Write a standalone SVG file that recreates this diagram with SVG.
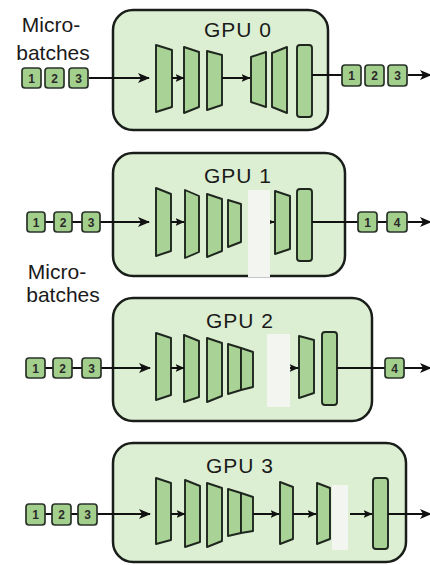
<svg xmlns="http://www.w3.org/2000/svg" width="430" height="565" viewBox="0 0 430 565">
  <style>
    .box { fill: #dcefd2; stroke: #1a1e1a; stroke-width: 2.5; }
    .layer { fill: #a9d396; stroke: #1e261e; stroke-width: 1.9; stroke-linejoin: round; }
    .sq { fill: #a3cf8c; stroke: #2a332a; stroke-width: 1.7; }
    .num { font-family: "Liberation Sans", Arial, sans-serif; font-size: 12px; font-weight: bold; fill: #2a2a2a; text-anchor: middle; }
    .title { font-family: "Liberation Sans", Arial, sans-serif; font-size: 21px; letter-spacing: 1px; fill: #1a1a1a; text-anchor: middle; }
    .lbl { font-family: "Liberation Sans", Arial, sans-serif; font-size: 21px; fill: #1a1a1a; text-anchor: middle; }
    .ln { stroke: #111; stroke-width: 2; fill: none; }
    .big { marker-end: url(#ah); }
    .small { marker-end: url(#ahs); }
    .band { fill: #f3f5f1; }
  </style>
  <defs>
    <marker id="ah" viewBox="0 0 12 10" refX="11" refY="5" markerWidth="12" markerHeight="10" markerUnits="userSpaceOnUse" orient="auto">
      <path d="M0,0 L12,5 L0,10 L3,5 Z" fill="#111"/>
    </marker>
    <marker id="ahs" viewBox="0 0 9 8" refX="8.5" refY="4" markerWidth="9" markerHeight="8" markerUnits="userSpaceOnUse" orient="auto">
      <path d="M0,0 L9,4 L0,8 L2,4 Z" fill="#111"/>
    </marker>
  </defs>

  <!-- labels -->
  <g id="label-microbatches-0">
    <text class="lbl" x="51" y="32">Micro-</text>
    <text class="lbl" x="53" y="60">batches</text>
  </g>
  <g id="label-microbatches-2">
    <text class="lbl" x="57" y="279">Micro-</text>
    <text class="lbl" x="63" y="302">batches</text>
  </g>

  <!-- GPU boxes -->
  <g id="gpu0">
    <rect class="box" x="113" y="10" width="215" height="120" rx="20"/>
    <text class="title" x="238" y="37">GPU 0</text>
    <polygon class="layer" points="156,45 172,50 172,107 156,112"/>
    <polygon class="layer" points="184,47 199,52 199,107 184,113"/>
    <polygon class="layer" points="207,51 222,55 222,105 207,110"/>
    <polygon class="layer" points="251,57 266,52 266,107 251,102"/>
    <polygon class="layer" points="272,53 287,47 287,113 272,107"/>
    <rect class="layer" x="297" y="45" width="15" height="72" rx="3"/>
  </g>
  <g id="gpu1">
    <rect class="box" x="113" y="153" width="232" height="123" rx="20"/>
    <text class="title" x="238" y="183">GPU 1</text>
    <polygon class="layer" points="156,188 171,194 171,251 156,256"/>
    <polygon class="layer" points="185,190 199,196 199,252 185,258"/>
    <polygon class="layer" points="207,194 222,199 222,251 207,257"/>
    <polygon class="layer" points="228,200 241,204 241,242 228,247"/>
    <polygon class="layer" points="275,191 290,196 290,249 275,254"/>
    <rect class="layer" x="297" y="189" width="15" height="72" rx="3"/>
  </g>
  <g id="gpu2">
    <rect class="box" x="113" y="298" width="259" height="123" rx="20"/>
    <text class="title" x="240" y="328">GPU 2</text>
    <polygon class="layer" points="156,333 171,338 171,395 156,400"/>
    <polygon class="layer" points="184,335 199,341 199,397 184,402"/>
    <polygon class="layer" points="207,338 222,343 222,396 207,402"/>
    <polygon class="layer" points="228,344 241,348 241,390 228,394"/>
    <polygon class="layer" points="241,348 253,352 253,387 241,390"/>
    <polygon class="layer" points="299,336 314,340 314,393 299,398"/>
    <rect class="layer" x="322" y="332" width="15" height="73" rx="3"/>
  </g>
  <g id="gpu3">
    <rect class="box" x="113" y="443" width="293" height="119" rx="20"/>
    <text class="title" x="240" y="473">GPU 3</text>
    <polygon class="layer" points="156,478 171,483 171,540 156,544"/>
    <polygon class="layer" points="185,480 200,486 200,542 185,547"/>
    <polygon class="layer" points="207,483 222,488 222,541 207,547"/>
    <polygon class="layer" points="228,489 241,493 241,533 228,536"/>
    <polygon class="layer" points="241,493 253,497 253,531 241,533"/>
    <polygon class="layer" points="280,482 293,487 293,539 280,544"/>
    <polygon class="layer" points="317,483 330,488 330,539 317,544"/>
    <rect class="layer" x="373" y="478" width="15" height="71" rx="3"/>
  </g>

  <!-- connectors -->
  <g id="connectors">
    <!-- GPU 0 -->
    <line class="ln big" x1="89" y1="78" x2="149" y2="78"/>
    <line class="ln small" x1="172" y1="78" x2="184" y2="78"/>
    <line class="ln small" x1="222" y1="78" x2="250" y2="78"/>
    <line class="ln" x1="312" y1="75" x2="342" y2="75"/>
    <line class="ln big" x1="408" y1="75" x2="431" y2="75"/>
    <!-- GPU 1 -->
    <line class="ln" x1="45" y1="222" x2="54" y2="222"/>
    <line class="ln" x1="72" y1="222" x2="82" y2="222"/>
    <line class="ln big" x1="100" y1="222" x2="149" y2="222"/>
    <line class="ln small" x1="171" y1="222" x2="184" y2="222"/>
    <line class="ln small" x1="250" y1="222" x2="274" y2="222"/>
    <line class="ln" x1="312" y1="222" x2="358" y2="222"/>
    <line class="ln" x1="377" y1="222" x2="387" y2="222"/>
    <line class="ln big" x1="407" y1="222" x2="431" y2="222"/>
    <!-- GPU 2 -->
    <line class="ln" x1="45" y1="368" x2="53" y2="368"/>
    <line class="ln" x1="72" y1="368" x2="82" y2="368"/>
    <line class="ln big" x1="101" y1="368" x2="150" y2="368"/>
    <line class="ln small" x1="171" y1="368" x2="184" y2="368"/>
    <line class="ln small" x1="285" y1="368" x2="298" y2="368"/>
    <line class="ln" x1="337" y1="368" x2="385" y2="368"/>
    <line class="ln big" x1="404" y1="368" x2="431" y2="368"/>
    <!-- GPU 3 -->
    <line class="ln" x1="45" y1="514" x2="52" y2="514"/>
    <line class="ln" x1="71" y1="514" x2="78" y2="514"/>
    <line class="ln big" x1="97" y1="514" x2="150" y2="514"/>
    <line class="ln small" x1="171" y1="514" x2="185" y2="514"/>
    <line class="ln small" x1="253" y1="514" x2="279" y2="514"/>
    <line class="ln small" x1="293" y1="514" x2="316" y2="514"/>
    <line class="ln small" x1="350" y1="514" x2="372" y2="514"/>
    <line class="ln big" x1="388" y1="514" x2="431" y2="514"/>
  </g>

  <!-- idle gaps -->
  <g id="gaps">
    <rect class="band" x="248" y="190" width="22" height="87"/>
    <rect class="band" x="267" y="334" width="23" height="73"/>
    <rect class="band" x="332" y="485" width="16" height="65"/>
  </g>

  <!-- micro-batch squares -->
  <g id="batches-gpu0-in">
    <rect class="sq" x="22" y="68" width="19" height="20" rx="3"/><text class="num" x="31.5" y="82.5">1</text>
    <rect class="sq" x="45" y="68" width="19" height="20" rx="3"/><text class="num" x="54.5" y="82.5">2</text>
    <rect class="sq" x="69" y="68" width="19" height="20" rx="3"/><text class="num" x="78.5" y="82.5">3</text>
  </g>
  <g id="batches-gpu0-out">
    <rect class="sq" x="342" y="65" width="19" height="21" rx="3"/><text class="num" x="351.5" y="80">1</text>
    <rect class="sq" x="365" y="65" width="19" height="21" rx="3"/><text class="num" x="374.5" y="80">2</text>
    <rect class="sq" x="388" y="65" width="19" height="21" rx="3"/><text class="num" x="397.5" y="80">3</text>
  </g>
  <g id="batches-gpu1-in">
    <rect class="sq" x="27" y="212" width="18" height="20" rx="3"/><text class="num" x="36" y="226.5">1</text>
    <rect class="sq" x="54" y="212" width="18" height="20" rx="3"/><text class="num" x="63" y="226.5">2</text>
    <rect class="sq" x="82" y="212" width="18" height="20" rx="3"/><text class="num" x="91" y="226.5">3</text>
  </g>
  <g id="batches-gpu1-out">
    <rect class="sq" x="358" y="212" width="19" height="20" rx="3"/><text class="num" x="367.5" y="226.5">1</text>
    <rect class="sq" x="387" y="212" width="20" height="20" rx="3"/><text class="num" x="397" y="226.5">4</text>
  </g>
  <g id="batches-gpu2-in">
    <rect class="sq" x="26" y="358" width="19" height="20" rx="3"/><text class="num" x="35.5" y="372.5">1</text>
    <rect class="sq" x="53" y="358" width="19" height="20" rx="3"/><text class="num" x="62.5" y="372.5">2</text>
    <rect class="sq" x="82" y="358" width="19" height="20" rx="3"/><text class="num" x="91.5" y="372.5">3</text>
  </g>
  <g id="batches-gpu2-out">
    <rect class="sq" x="385" y="358" width="19" height="20" rx="3"/><text class="num" x="394.5" y="372.5">4</text>
  </g>
  <g id="batches-gpu3-in">
    <rect class="sq" x="26" y="504" width="19" height="21" rx="3"/><text class="num" x="35.5" y="519">1</text>
    <rect class="sq" x="52" y="504" width="19" height="21" rx="3"/><text class="num" x="61.5" y="519">2</text>
    <rect class="sq" x="78" y="504" width="19" height="21" rx="3"/><text class="num" x="87.5" y="519">3</text>
  </g>
</svg>
